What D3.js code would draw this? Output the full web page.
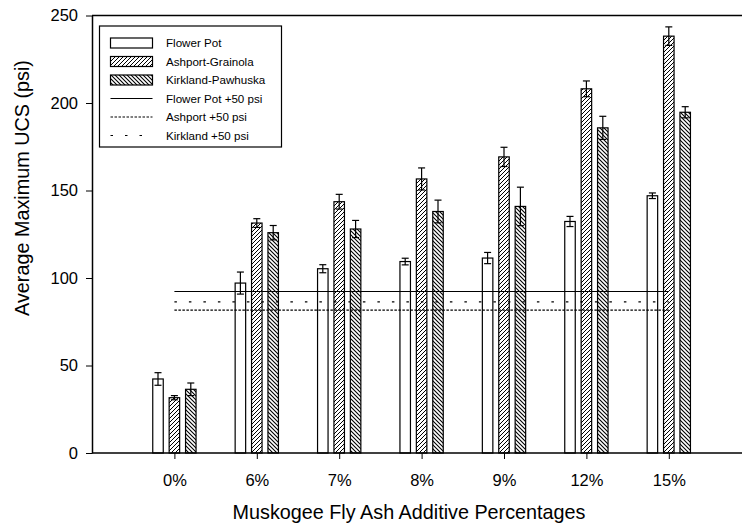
<!DOCTYPE html>
<html><head><meta charset="utf-8">
<script src="https://cdn.jsdelivr.net/npm/d3@7"></script>
<style>
html,body{margin:0;padding:0;background:#fff;}
svg{display:block;font-family:"Liberation Sans",Arial,sans-serif;}
</style></head>
<body>
<svg id="chart" width="742" height="527"></svg>
<script>
const categories = ["0%","6%","7%","8%","9%","12%","15%"];
const seriesNames = ["Flower Pot","Ashport-Grainola","Kirkland-Pawhuska"];
const flowerPot = [42.3, 97.1, 105.3, 109.4, 111.4, 132.3, 147.0];
const flowerPotErr = [3.6, 6.3, 2.3, 1.9, 3.2, 2.9, 1.6];
const ashport = [31.6, 131.4, 143.6, 156.6, 169.2, 208.1, 238.2];
const ashportErr = [1.2, 2.5, 4.2, 6.3, 5.5, 4.5, 5.3];
const kirkland = [36.4, 125.9, 128.0, 138.0, 140.9, 185.8, 194.7];
const kirklandErr = [3.6, 4.1, 4.9, 6.5, 11.0, 6.6, 3.2];
const refNames = ["Flower Pot +50 psi","Ashport +50 psi","Kirkland +50 psi"];
const refValues = [92.3, 81.6, 86.4];
const yTicks = [0,50,100,150,200,250];

(function(){
const svg = d3.select("#chart");
const mLeft = 92, mRight = 742, mTop = 15.5, mBottom = 453;

const x = d3.scalePoint().domain(categories).range([174.4, 668.8]);
const xs = d3.scaleBand().domain(seriesNames).range([-24.6, 24.6]);
const barW = 10.5;
const y = d3.scaleLinear().domain([0,250]).range([mBottom, mTop]);

const defs = svg.append("defs");
const p1 = defs.append("pattern").attr("id","hatchF").attr("patternUnits","userSpaceOnUse")
  .attr("width",4).attr("height",4);
p1.append("rect").attr("width",4).attr("height",4).attr("fill","#fff");
p1.append("path").attr("d","M-1,1 L1,-1 M0,4 L4,0 M3,5 L5,3").attr("stroke","#000").attr("stroke-width",1);
const p2 = defs.append("pattern").attr("id","hatchB").attr("patternUnits","userSpaceOnUse")
  .attr("width",4).attr("height",4);
p2.append("rect").attr("width",4).attr("height",4).attr("fill","#fff");
p2.append("path").attr("d","M-1,3 L1,5 M0,0 L4,4 M3,-1 L5,1").attr("stroke","#000").attr("stroke-width",1.1);

const fills = {"Flower Pot":"#fff","Ashport-Grainola":"url(#hatchF)","Kirkland-Pawhuska":"url(#hatchB)"};
const refDash = {"Flower Pot +50 psi":null,"Ashport +50 psi":"2.5,1.5","Kirkland +50 psi":"2.5,12"};

const data = [];
[[flowerPot,flowerPotErr],[ashport,ashportErr],[kirkland,kirklandErr]].forEach((s,si)=>{
  categories.forEach((c,ci)=>data.push({cat:c, ser:seriesNames[si], v:s[0][ci], e:s[1][ci]}));
});

svg.append("line").attr("x1",mLeft).attr("x2",mRight).attr("y1",mTop).attr("y2",mTop)
  .attr("stroke","#000").attr("stroke-width",1.5);

const bx = d => x(d.cat) + xs(d.ser) + xs.bandwidth()/2 - barW/2;
svg.append("g").selectAll("rect").data(data).join("rect")
  .attr("x",bx).attr("width",barW)
  .attr("y",d=>y(d.v)).attr("height",d=>y(0)-y(d.v))
  .attr("fill",d=>fills[d.ser]).attr("stroke","#000").attr("stroke-width",1.2);

const eg = svg.append("g").attr("stroke","#000").attr("stroke-width",1.2);
data.forEach(d=>{
  const cx = bx(d)+barW/2;
  eg.append("line").attr("x1",cx).attr("x2",cx).attr("y1",y(d.v-d.e)).attr("y2",y(d.v+d.e));
  eg.append("line").attr("x1",cx-3.5).attr("x2",cx+3.5).attr("y1",y(d.v+d.e)).attr("y2",y(d.v+d.e));
  eg.append("line").attr("x1",cx-3.5).attr("x2",cx+3.5).attr("y1",y(d.v-d.e)).attr("y2",y(d.v-d.e));
});

svg.append("g").selectAll("line").data(refNames).join("line")
  .attr("x1",x(categories[0])).attr("x2",x(categories[categories.length-1]))
  .attr("y1",(d,i)=>y(refValues[i])).attr("y2",(d,i)=>y(refValues[i]))
  .attr("stroke","#000").attr("stroke-width",1.2)
  .attr("stroke-dasharray",d=>refDash[d]);

const yAxis = svg.append("g").attr("transform",`translate(${mLeft},0)`)
  .call(d3.axisLeft(y).tickValues(yTicks).tickSize(6).tickPadding(8).tickSizeOuter(0));
yAxis.select(".domain").attr("stroke-width",1.5);
yAxis.selectAll("text").attr("font-size",16.5).attr("font-family","Liberation Sans, Arial, sans-serif").attr("fill","#000");

const xAxis = svg.append("g").attr("transform",`translate(0,${mBottom})`)
  .call(d3.axisBottom(x).tickSize(6).tickPadding(15).tickSizeOuter(0));
xAxis.select(".domain").remove();
xAxis.selectAll("text").attr("font-size",16.5).attr("font-family","Liberation Sans, Arial, sans-serif").attr("fill","#000");
svg.append("line").attr("x1",mLeft).attr("x2",mRight).attr("y1",mBottom).attr("y2",mBottom)
  .attr("stroke","#000").attr("stroke-width",1.5);

svg.append("text").attr("x",409).attr("y",519).attr("text-anchor","middle")
  .attr("font-size",19.8).text("Muskogee Fly Ash Additive Percentages");
svg.append("text").attr("transform","translate(29,188) rotate(-90)").attr("text-anchor","middle")
  .attr("font-size",19.8).text("Average Maximum UCS (psi)");

const lg = svg.append("g");
lg.append("rect").attr("x",99.5).attr("y",26).attr("width",182).attr("height",121)
  .attr("fill","#fff").attr("stroke","#000").attr("stroke-width",1.2);
const rowY = i => 43 + i*18.5;
seriesNames.forEach((s,i)=>{
  lg.append("rect").attr("x",110.5).attr("y",rowY(i)-5).attr("width",42).attr("height",10)
    .attr("fill",fills[s]).attr("stroke","#000").attr("stroke-width",1.2);
  lg.append("text").attr("x",166).attr("y",rowY(i)+4).attr("font-size",11.6).text(s);
});
refNames.forEach((s,i)=>{
  const yy = rowY(i+3);
  lg.append("line").attr("x1",110.5).attr("x2",152.5).attr("y1",yy).attr("y2",yy)
    .attr("stroke","#000").attr("stroke-width",1.2).attr("stroke-dasharray",refDash[s]);
  lg.append("text").attr("x",166).attr("y",yy+4).attr("font-size",11.6).text(s);
});
})();
</script>
</body></html>
